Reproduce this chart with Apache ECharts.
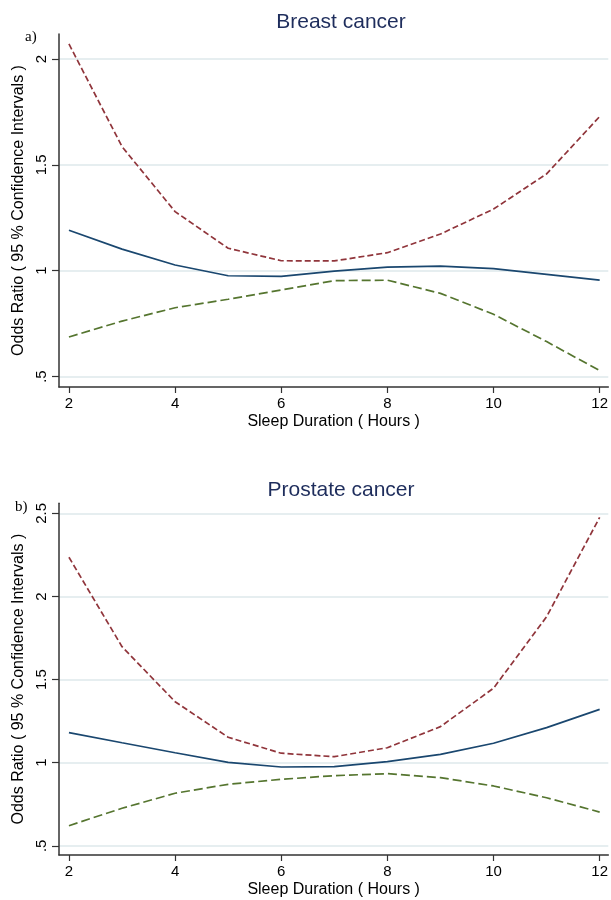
<!DOCTYPE html>
<html>
<head>
<meta charset="utf-8">
<script src="https://cdn.jsdelivr.net/npm/echarts@6/dist/echarts.min.js"></script>
<style>
html,body{margin:0;padding:0;background:#fff;}
#chart{width:611px;height:900px;}
</style>
</head>
<body>
<div id="chart"></div>
<script>
// ---- data ----
const hours = [2, 3, 4, 5, 6, 7, 8, 9, 10, 11, 12];
const xTickValues = [2, 4, 6, 8, 10, 12];

const breastOR    = [1.191, 1.102, 1.027, 0.976, 0.973, 0.998, 1.017, 1.022, 1.010, 0.983, 0.955];
const breastUpper = [2.071, 1.586, 1.279, 1.106, 1.047, 1.046, 1.085, 1.173, 1.291, 1.457, 1.728];
const breastLower = [0.687, 0.762, 0.825, 0.865, 0.909, 0.953, 0.955, 0.893, 0.794, 0.665, 0.528];

const prostateOR    = [1.181, 1.120, 1.060, 1.002, 0.974, 0.976, 1.006, 1.050, 1.117, 1.211, 1.321];
const prostateUpper = [2.236, 1.698, 1.367, 1.153, 1.057, 1.036, 1.090, 1.217, 1.448, 1.878, 2.476];
const prostateLower = [0.621, 0.726, 0.816, 0.870, 0.900, 0.922, 0.934, 0.910, 0.860, 0.789, 0.703];

const yTicksBreast = [0.5, 1, 1.5, 2];
const yTicksProstate = [0.5, 1, 1.5, 2, 2.5];
const yTickText = {0.5: '.5', 1: '1', 1.5: '1.5', 2: '2', 2.5: '2.5'};

const titles = ['Breast cancer', 'Prostate cancer'];
const panelTags = ['a)', 'b)'];
const xTitle = 'Sleep Duration ( Hours )';
const yTitle = 'Odds Ratio ( 95 % Confidence Intervals )';

// ---- chart ----
const pairs = arr => hours.map((h, i) => [h, arr[i]]);
const FONT = '"Liberation Sans", Arial, sans-serif';
const navy = '#1a476f', maroon = '#90353b', green = '#55752f';

function xAxisFor(idx) {
  return {
    type: 'value', gridIndex: idx, min: 1.8125, max: 12.1625,
    name: xTitle, nameLocation: 'middle', nameGap: 27,
    nameTextStyle: {fontFamily: FONT, fontSize: 16, color: '#000'},
    axisLine: {show: true, lineStyle: {color: '#333', width: 1.5}},
    axisTick: {show: true, length: 6, customValues: xTickValues, lineStyle: {color: '#333', width: 1.2}},
    axisLabel: {customValues: xTickValues, margin: 9, fontFamily: FONT, fontSize: 15, color: '#000'},
    splitLine: {show: false}
  };
}
function yAxisFor(idx, min, max, ticks) {
  return {
    type: 'value', gridIndex: idx, min: min, max: max,
    name: yTitle, nameLocation: 'middle', nameGap: 21,
    nameTextStyle: {fontFamily: FONT, fontSize: 16, color: '#000'},
    axisLine: {show: true, lineStyle: {color: '#333', width: 1.5}},
    axisTick: {show: true, length: 7, customValues: ticks, lineStyle: {color: '#333', width: 1.2}},
    axisLabel: {customValues: ticks, rotate: 90, margin: 10, fontFamily: FONT, fontSize: 15, color: '#000',
      formatter: v => yTickText[v] !== undefined ? yTickText[v] : String(v)},
    splitLine: {show: true, lineStyle: {color: '#e6eef0', width: 2}}
  };
}
function line(idx, arr, color, dash, z) {
  return {
    type: 'line', xAxisIndex: idx, yAxisIndex: idx, data: pairs(arr),
    showSymbol: false, symbol: 'none', smooth: false, z: z,
    lineStyle: {color: color, width: 1.7, type: dash},
    emphasis: {disabled: true}, silent: true
  };
}

const chart = echarts.init(document.getElementById('chart'), null, {renderer: 'canvas'});
chart.setOption({
  animation: false,
  backgroundColor: '#fff',
  title: [
    {text: titles[0], left: 336, top: 7, textAlign: 'center',
     textStyle: {fontFamily: FONT, fontSize: 21, fontWeight: 'normal', color: '#1e2d5c'}},
    {text: titles[1], left: 336, top: 475, textAlign: 'center',
     textStyle: {fontFamily: FONT, fontSize: 21, fontWeight: 'normal', color: '#1e2d5c'}},
    {text: panelTags[0], left: 20, top: 25,
     textStyle: {fontFamily: '"Liberation Serif", "Times New Roman", serif', fontSize: 15, fontWeight: 'normal', color: '#000'}},
    {text: panelTags[1], left: 10, top: 495,
     textStyle: {fontFamily: '"Liberation Serif", "Times New Roman", serif', fontSize: 15, fontWeight: 'normal', color: '#000'}}
  ],
  grid: [
    {left: 59, top: 34, width: 552, height: 353},
    {left: 59, top: 503.3, width: 552, height: 351.7}
  ],
  xAxis: [xAxisFor(0), xAxisFor(1)],
  yAxis: [
    yAxisFor(0, 0.4506, 2.118, yTicksBreast),
    yAxisFor(1, 0.4446, 2.5608, yTicksProstate)
  ],
  series: [
    line(0, breastUpper, maroon, [6, 3], 2),
    line(0, breastLower, green, [9, 4], 2),
    line(0, breastOR, navy, 'solid', 3),
    line(1, prostateUpper, maroon, [6, 3], 2),
    line(1, prostateLower, green, [9, 4], 2),
    line(1, prostateOR, navy, 'solid', 3)
  ]
});
</script>
</body>
</html>
